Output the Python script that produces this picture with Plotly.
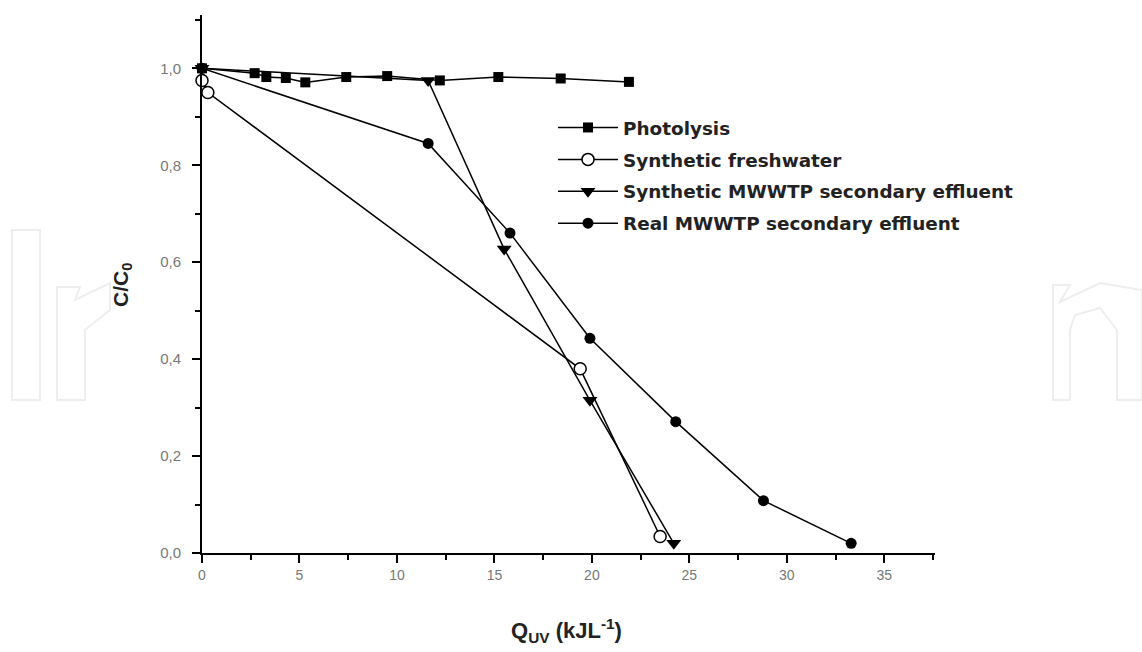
import plotly.graph_objects as go

# ---- data ----
photolysis_x = [0, 2.7, 3.3, 4.3, 5.3, 7.4, 9.5, 12.2, 15.2, 18.4, 21.9]
photolysis_y = [1.0, 0.99, 0.982, 0.98, 0.971, 0.982, 0.984, 0.975, 0.982, 0.979, 0.972]

freshwater_x = [0, 0.3, 19.4, 23.5]
freshwater_y = [0.975, 0.95, 0.38, 0.034]

synth_x = [0, 11.6, 15.5, 19.9, 24.2]
synth_y = [1.0, 0.975, 0.627, 0.315, 0.02]

real_x = [0, 11.6, 15.8, 19.9, 24.3, 28.8, 33.3]
real_y = [1.0, 0.845, 0.66, 0.443, 0.271, 0.108, 0.02]

names = ["Photolysis", "Synthetic freshwater",
         "Synthetic MWWTP secondary effluent", "Real MWWTP secondary effluent"]

x_ticks = [0, 5, 10, 15, 20, 25, 30, 35]
y_ticks = [0.0, 0.2, 0.4, 0.6, 0.8, 1.0]

# ---- layout geometry (pixels) ----
W, H = 1142, 652
L, R, T, B = 202, 935, 15, 553
pw, ph = R - L, B - T


def px(x, y):
    return (x - L) / pw, (B - y) / ph


fig = go.Figure()

line = dict(color="black", width=1.5)
fig.add_trace(go.Scatter(x=photolysis_x, y=photolysis_y, name=names[0], mode="lines+markers",
                         line=line, legendgroup="a",
                         marker=dict(symbol="square", size=10, color="black")))
fig.add_trace(go.Scatter(x=freshwater_x, y=freshwater_y, name=names[1], mode="lines+markers",
                         line=line, legendgroup="b",
                         marker=dict(symbol="circle", size=12, color="white",
                                     line=dict(color="black", width=1.5))))
fig.add_trace(go.Scatter(x=synth_x, y=synth_y, name=names[2], mode="lines+markers",
                         line=line, legendgroup="c",
                         marker=dict(symbol="triangle-down", size=13, color="black")))
fig.add_trace(go.Scatter(x=real_x, y=real_y, name=names[3], mode="lines+markers",
                         line=line, legendgroup="d",
                         marker=dict(symbol="circle", size=11, color="black")))

for tr in fig.data:
    tr.cliponaxis = False

# faint watermark outlines
wm = "#eeeeee"
shapes = []


def path(points):
    s = ""
    for i, (a, b) in enumerate(points):
        xx, yy = px(a, b)
        s += ("M" if i == 0 else "L") + f"{xx:.4f},{yy:.4f} "
    return s + "Z"


shapes.append(dict(type="path", xref="paper", yref="paper", path=path([(12, 230), (40, 230), (40, 400), (12, 400)]),
                   line=dict(color=wm, width=2)))
shapes.append(dict(type="path", xref="paper", yref="paper", path=path([(57, 287), (80, 287), (75, 300), (110, 283), (110, 310), (85, 330), (85, 400), (57, 400)]),
                   line=dict(color=wm, width=2)))
shapes.append(dict(type="path", xref="paper", yref="paper", path=path([(1053, 285), (1070, 285), (1060, 302), (1100, 283), (1142, 290), (1142, 400), (1117, 400), (1117, 330), (1100, 308), (1075, 315), (1070, 330), (1070, 400), (1053, 400)]),
                   line=dict(color=wm, width=2)))

fig.update_layout(
    width=W, height=H,
    margin=dict(l=L, r=W - R, t=T, b=H - B),
    paper_bgcolor="white", plot_bgcolor="white",
    separators=",.",
    showlegend=True,
    shapes=shapes,
    legend=dict(x=px(553, 0)[0], y=px(0, 109)[1], xanchor="left", yanchor="top",
                bgcolor="rgba(0,0,0,0)", traceorder="grouped", tracegroupgap=5,
                itemwidth=60,
                font=dict(family="DejaVu Sans", size=18.4, color="#222222", weight="bold")),
    xaxis=dict(range=[0, 37.6], showgrid=False, zeroline=False,
               showline=True, linecolor="black", linewidth=2,
               ticks="outside", ticklen=8, tickwidth=1.5, tickcolor="black",
               tickvals=x_ticks, ticktext=[str(v) for v in x_ticks],
               minor=dict(ticks="outside", ticklen=5, tickwidth=1.5, tickcolor="black", dtick=2.5, showgrid=False),
               tickfont=dict(family="Liberation Sans", size=14, color="#777777")),
    yaxis=dict(range=[0, 1.11], showgrid=False, zeroline=False,
               showline=True, linecolor="black", linewidth=2,
               ticks="outside", ticklen=8, tickwidth=1.5, tickcolor="black",
               tickvals=y_ticks, tickformat=".1f", ticklabelstandoff=8,
               minor=dict(ticks="outside", ticklen=5, tickwidth=1.5, tickcolor="black", dtick=0.1, showgrid=False),
               tickfont=dict(family="Liberation Sans", size=15, color="#777777")),
    annotations=[
        dict(text="<b>Q<sub>UV</sub> (kJL<sup>-1</sup>)</b>", xref="paper", yref="paper",
             x=px(566, 0)[0], y=px(0, 630)[1], xanchor="center", yanchor="middle", showarrow=False,
             font=dict(family="Liberation Sans", size=22, color="#222222")),
        dict(text="<b>C/C<sub>0</sub></b>", xref="paper", yref="paper",
             x=px(122, 0)[0], y=px(0, 285)[1], xanchor="center", yanchor="middle",
             showarrow=False, textangle=-90,
             font=dict(family="Liberation Sans", size=21, color="#222222")),
    ],
)

fig.write_html("out.html")
